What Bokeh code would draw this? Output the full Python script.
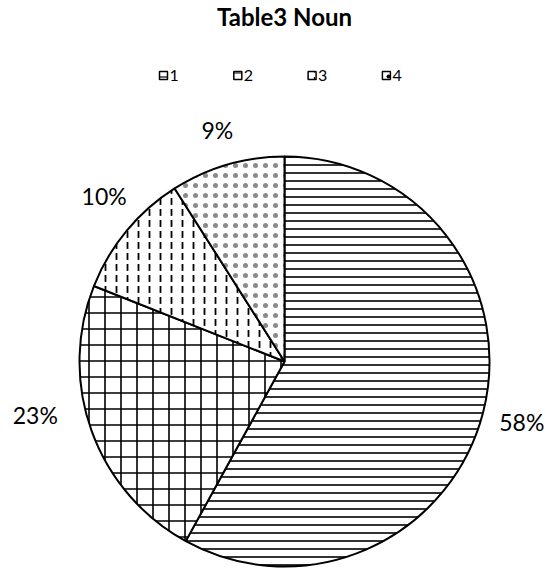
import math
from bokeh.plotting import figure
from bokeh.models import Range1d
from bokeh.core.properties import value
from bokeh.embed import file_html
from bokeh.resources import INLINE

# ---- data ----
title_text = "Table3 Noun"
categories = ["1", "2", "3", "4"]
shares = [58, 23, 10, 9]
label_texts = ["58%", "23%", "10%", "9%"]

# ---- style / layout ----
patterns = ["horizontal_line", "cross", "vertical_dash", "dot"]
hatch_scales = [8, 16, 11, 10]
hatch_weights = [1.6, 1.6, 1.8, 0.1]
hatch_colors = ["black", "black", "black", "#8a8a8a"]
legend_scales = [8, 16, 11, 8]
label_dist = [245, 255, 245, 241]
label_shift_deg = [0, -7.6, -3.0, 0]

W, H = 546, 569
PAGE_H = 569
FONT = "Lato"

def Y(screen_y):
    return PAGE_H - screen_y

cx, cy, R = 284, Y(361), 205

p = figure(width=W, height=H, output_backend="svg", toolbar_location=None,
           x_range=Range1d(0, W), y_range=Range1d(PAGE_H - H, PAGE_H),
           min_border=0)
p.axis.visible = False
p.grid.visible = False
p.outline_line_color = None
p.background_fill_color = "white"
p.border_fill_color = "white"

total = float(sum(shares))
cum = 0.0
for i, s in enumerate(shares):
    a0 = 90 - cum / total * 360
    a1 = 90 - (cum + s) / total * 360
    mid = (a0 + a1) / 2.0
    p.wedge(x=cx, y=cy, radius=R, start_angle=math.radians(a0), end_angle=math.radians(a1),
            direction="clock", fill_color="white", line_color="black", line_width=2,
            hatch_pattern=patterns[i], hatch_scale=hatch_scales[i],
            hatch_weight=hatch_weights[i], hatch_color=hatch_colors[i])
    ang = math.radians(mid + label_shift_deg[i])
    lx = cx + label_dist[i] * math.cos(ang)
    ly = cy + label_dist[i] * math.sin(ang)
    p.text(x=[lx], y=[ly], text=[label_texts[i]], text_font=value(FONT),
           text_font_size="23px", text_align="center", text_baseline="middle",
           text_color="black")
    cum += s

# title
p.text(x=[284], y=[Y(16)], text=[title_text], text_font=value(FONT),
       text_font_size="24px", text_font_style="bold", text_align="center",
       text_baseline="middle", text_color="black")

# legend
leg_x0, leg_dx, leg_y = 163, 74.3, Y(75)
for i, c in enumerate(categories):
    x = leg_x0 + i * leg_dx
    p.rect(x=[x], y=[leg_y], width=8, height=8, fill_color="white",
           line_color="black", line_width=1.5, hatch_pattern=patterns[i],
           hatch_scale=legend_scales[i], hatch_weight=1.2, hatch_color="black")
    p.text(x=[x + 6], y=[leg_y], text=[c], text_font=value(FONT),
           text_font_size="16px", text_align="left", text_baseline="middle",
           text_color="black")

open("out.html", "w").write(file_html(p, INLINE))
